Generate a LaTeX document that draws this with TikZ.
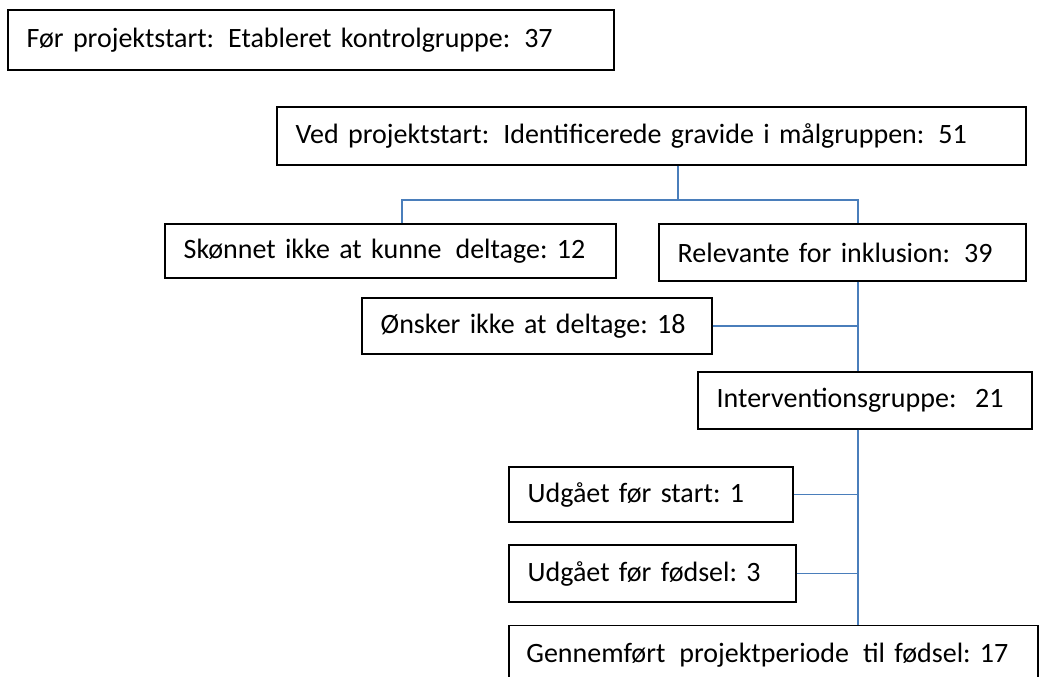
\documentclass[tikz,border=0pt]{standalone}
\usepackage{fontspec}
\setmainfont{Carlito}
\usepackage{tikz}
\definecolor{linkblue}{HTML}{4A7EBB}
\tikzset{
  box/.style={draw=black, line width=1pt, fill=white, inner xsep=14pt, inner ysep=0pt, align=left,
    font=\fontsize{21}{25}\selectfont\frenchspacing},
  link/.style={draw=linkblue, line width=1.1pt}
}

\begin{document}
\begin{tikzpicture}[x=0.75pt,y=-0.75pt]
\useasboundingbox (0,0) rectangle (1042,677);
\clip (0,0) rectangle (1042,677);
%
\node[box, text width=426.5pt, minimum height=45pt] (kontrol) at (311,40) {Før projektstart:\ \,Etableret kontrolgruppe:\ \,37};
\node[box, text width=533.75pt, minimum height=43.5pt] (ved) at (651.5,136) {Ved projektstart:\ \,Identificerede gravide i målgruppen:\ \,51};
\node[box, text width=310.25pt, minimum height=40.5pt] (skon) at (390.5,251) {Skønnet ikke at kunne\ \,deltage: 12};
\node[box, text width=247.25pt, minimum height=42.75pt] (rel) at (842.5,252.5) {Relevante for inklusion:\ \,39};
\node[box, text width=234.5pt, minimum height=42pt] (onsk) at (537,326) {Ønsker ikke at deltage: 18};
\node[box, text width=222.5pt, minimum height=42.75pt] (interv) at (865,400.5) {Interventionsgruppe:\ \ 21};
\node[box, text width=185pt, minimum height=41.25pt] (udstart) at (651,494.5) {Udgået før start: 1};
\node[box, text width=187.25pt, minimum height=42.75pt] (udfods) at (652.5,573.5) {Udgået før fødsel: 3};
\node[box, inner xsep=13pt, text width=370.75pt, minimum height=44pt] (gennem) at (773.5,655) {Gennemført\ \,projektperiode\ \,til fødsel: 17};
%
\coordinate (split) at (678,200);
\coordinate (sleft) at (402,200);
\coordinate (sright) at (858,200);
%
\draw[link] (split |- ved.south) -- (split);
\draw[link] (sleft |- skon.north) -- (sleft) -- (sright) -- (sright |- rel.north);
\draw[link] (sright |- rel.south) -- (sright |- interv.north);
\draw[link] (onsk.east) -- (onsk.east -| sright);
\draw[link] (sright |- interv.south) -- (sright |- gennem.north);
\draw[link] (udstart.east) -- (udstart.east -| sright);
\draw[link] (udfods.east) -- (udfods.east -| sright);
\end{tikzpicture}
\end{document}
